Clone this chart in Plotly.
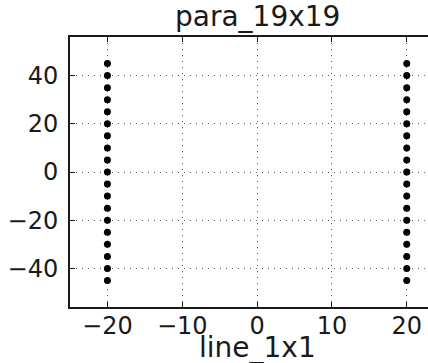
import plotly.graph_objects as go

# grid of sample points: two columns, 19 rows each
col_x = [-20, 20]
row_y = [-45, -40, -35, -30, -25, -20, -15, -10, -5, 0,
         5, 10, 15, 20, 25, 30, 35, 40, 45]
x_ticks = [-20, -10, 0, 10, 20]
y_ticks = [-40, -20, 0, 20, 40]

xs = [cx for cx in col_x for _ in row_y]
ys = [ry for _ in col_x for ry in row_y]

FONT = "DejaVu Sans"
INK = "#1a1a1a"

fig = go.Figure()
fig.add_trace(go.Scatter(
    x=xs, y=ys, mode="markers",
    marker=dict(color="black", size=7, line=dict(width=0)),
    showlegend=False, cliponaxis=False,
))

axis_common = dict(
    showline=True, linecolor=INK, linewidth=2,
    ticks="inside", ticklen=5, tickwidth=1, tickcolor=INK,
    showgrid=True, gridcolor="#555", gridwidth=1, griddash="1px,5px",
    zeroline=False,
    tickfont=dict(family=FONT, size=24, color=INK),
)

fig.update_xaxes(range=[-25, 22.84], tickvals=x_ticks, mirror="ticks",
                 ticklabelstandoff=-4, **axis_common)
fig.update_yaxes(range=[-56, 56], tickvals=y_ticks, mirror=False,
                 ticklabelstandoff=5, **axis_common)

fig.add_annotation(text="para_19x19", x=0, xref="x", y=1.075, yref="paper",
                   showarrow=False, xanchor="center", yanchor="middle",
                   font=dict(family=FONT, size=28, color=INK))
fig.add_annotation(text="line_1x1", x=0, xref="x", y=-0.15, yref="paper",
                   showarrow=False, xanchor="center", yanchor="middle",
                   font=dict(family=FONT, size=28, color=INK))

fig.update_layout(
    width=428, height=363,
    margin=dict(l=70, r=0, t=37, b=56, pad=0),
    paper_bgcolor="white", plot_bgcolor="white",
)

fig.write_html("out.html")
